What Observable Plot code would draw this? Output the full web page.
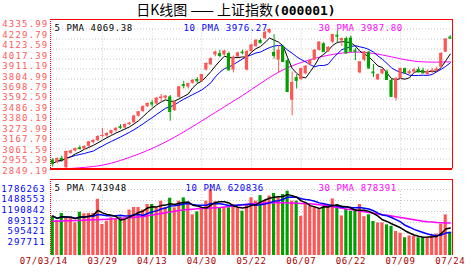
<!DOCTYPE html>
<html><head><meta charset="utf-8">
<script src="https://cdn.jsdelivr.net/npm/d3@7"></script>
<script src="https://cdn.jsdelivr.net/npm/@observablehq/plot@0.6"></script>
<style>
body{margin:0;background:#fff;}
#c{position:relative;width:472px;height:273px;overflow:hidden;background:#fff;}
#c svg{position:absolute;left:0;top:0;background:transparent;}
#title{position:absolute;left:0;top:1px;width:472px;text-align:center;font-size:14px;line-height:16px;font-family:"Noto Sans CJK SC";color:#000;white-space:nowrap;}
#title b{font-family:"DejaVu Sans Mono";font-size:13px;}
</style></head><body>
<div id="c"><div id="title">日K线图 —— 上证指数<b>(000001)</b></div></div>
<script>
// ---- data ----
const open  = [2945,2915,2962,2862,3015,3040,3075,3060,3090,3130,3150,3195,3200,3225,3255,3300,3285,3320,3340,3410,3460,3510,3552,3540,3598,3600,3615,3470,3610,3745,3720,3760,3800,3775,3900,3955,4060,4075,4060,4075,3900,4040,4090,3900,4095,4150,4215,4235,4295,4087,4005,4150,4000,3580,3820,3800,3860,3955,4005,4110,4180,4095,4195,4270,4210,4235,4240,4110,3870,4005,4090,3880,3795,3860,3880,3790,3600,3810,3915,3860,3880,3905,3895,3850,3880,3890,3930,4090,4250];
const high  = [2958,2968,2985,3040,3048,3072,3095,3095,3140,3160,3200,3280,3235,3260,3290,3320,3330,3345,3420,3460,3520,3550,3575,3610,3640,3630,3630,3570,3725,3780,3760,3800,3820,3855,3975,4030,4100,4110,4110,4090,4050,4090,4110,4110,4175,4225,4230,4310,4335.99,4275,4160,4160,4010,3880,3850,3920,3945,4010,4115,4200,4190,4150,4280,4313,4240,4250,4260,4130,3990,4100,4100,3960,3860,3910,3900,3800,3820,3920,3920,3900,3920,3930,3920,3900,3920,3930,4085,4232,4265];
const low   = [2870,2905,2920,2849.19,3005,3030,3050,3045,3080,3115,3140,3180,3185,3210,3240,3270,3280,3310,3335,3400,3450,3505,3505,3530,3560,3590,3357,3460,3600,3700,3700,3750,3760,3770,3890,3950,4040,4030,4050,3895,3870,4030,4060,3890,4090,4140,4180,4225,4285,4015,3865,3985,3660,3414,3700,3790,3850,3950,4000,4100,4090,4085,4180,4193,4150,4076,4090,4000,3860,3990,3915,3820,3790,3850,3790,3610,3570,3800,3860,3850,3860,3870,3860,3840,3860,3880,3920,4085,4225];
const close = [2908,2960,2950,3035,3040,3065,3066,3088,3135,3150,3195,3205,3225,3255,3280,3292,3320,3335,3410,3455,3510,3545,3540,3600,3612,3622,3460,3560,3720,3735,3755,3790,3785,3850,3970,4020,4090,4055,4100,3900,4030,4080,4085,4095,4165,4215,4190,4300,4330,4053,4110,3990,3672,3767,3790,3915,3940,4000,4110,4195,4095,4140,4275,4260,4235,4080,4100,4100,3985,4090,3920,3870,3850,3905,3800,3620,3810,3915,3870,3880,3900,3880,3870,3886,3895,3908,4076,4228,4240];
const volume = [1064000,947000,1137000,1020000,1000000,885000,1170000,1130000,1140000,1140000,1520000,839000,928000,1020000,980000,1040000,947000,1230000,1300000,1300000,1230000,1380000,1380000,1290000,1470000,1300000,1550000,1290000,1470000,1560000,1380000,1100000,1180000,1290000,1470000,1786263,1450000,1290000,1290000,1290000,1380000,1270000,1200000,1380000,1560000,1470000,1620000,1490000,1610000,1680000,1560000,1650000,1740000,1470000,1470000,1060000,1420000,1330000,1300000,1240000,1310000,1380000,1530000,1380000,1070000,1250000,1200000,1240000,1380000,1050000,1100000,920000,880000,880000,830000,790000,650000,600000,480000,530000,520000,480000,470000,490000,560000,580000,850000,1100000,630000];
const ma30 = [2851,2851,2852,2853,2855,2858,2862,2866,2871,2876,2882,2890,2900,2912,2925,2940,2956,2973,2990,3008,3027,3047,3068,3090,3113,3137,3162,3188,3215,3243,3272,3300,3330,3360,3390,3420,3450,3480,3510,3540,3570,3600,3630,3662,3694,3726,3758,3790,3822,3850,3878,3902,3925,3945,3963,3980,3995,4010,4024,4036,4047,4057,4066,4074,4080,4085,4089,4091,4090,4087,4082,4076,4069,4060,4050,4040,4030,4020,4010,4002,3995,3990,3987,3985,3984,3984,3985,3986,3987.8];
const vma30 = [930000,932000,935000,938000,942000,946000,950000,955000,960000,965000,970000,976000,983000,990000,998000,1006000,1015000,1025000,1035000,1045000,1056000,1075000,1095000,1115000,1135000,1155000,1175000,1195000,1215000,1235000,1245000,1255000,1262000,1270000,1277000,1285000,1292000,1300000,1312000,1325000,1340000,1355000,1370000,1385000,1398000,1405000,1412000,1418000,1422000,1425000,1426000,1426000,1424000,1420000,1415000,1410000,1405000,1400000,1390000,1375000,1358000,1340000,1320000,1300000,1280000,1260000,1245000,1225000,1205000,1185000,1165000,1145000,1125000,1105000,1090000,1070000,1050000,1030000,1010000,990000,970000,950000,930000,915000,905000,895000,888000,882000,878391];
const priceTicks = [4335.99,4229.79,4123.59,4017.39,3911.19,3804.99,3698.79,3592.59,3486.39,3380.19,3273.99,3167.79,3061.59,2955.39,2849.19];
const volTicks = [1786263,1488553,1190842,893132,595421,297711];
const xTickIdx = [0,11,22,33,44,55,66,77,88];
const xTickLabels = ["07/03/14","03/29","04/13","04/30","05/22","06/07","06/22","07/09","07/24"];
const priceLegend = ["5 PMA 4069.38","10 PMA 3976.27","30 PMA 3987.80"];
const volLegend = ["5 PMA 743948","10 PMA 620836","30 PMA 878391"];

// ---- build ----
const UP = "#ff5555", DOWN = "#009f00", GRID = "#c8c8c8", FRAME = "#ff0000";
const data = close.map((c, i) => ({i, o: open[i], h: high[i], l: low[i], c, v: volume[i], m30: ma30[i], vm30: vma30[i], up: c >= open[i]}));
const W = 472, H = 273;
const xDom = [-0.5, data.length - 0.5];
const col = d => d.up ? UP : DOWN;
const pMin = priceTicks[priceTicks.length - 1], pMax = priceTicks[0];
const pTop = pMax + (pMax - pMin) * 9.5 / 140;
const vTop = volTicks[0] * 76 / 66;
const mono = "DejaVu Sans Mono";
const c = document.getElementById("c");
const spacing = (svg, px) => { d3.select(svg).selectAll("text").style("letter-spacing", px + "px"); return svg; };

const price = Plot.plot({
  width: W, height: H, marginLeft: 50, marginRight: 20, marginTop: 19, marginBottom: H - 168.5,
  style: {background: "transparent"},
  x: {domain: xDom, axis: null},
  y: {domain: [pMin, pTop], axis: null},
  marks: [
    Plot.ruleY(priceTicks.slice(0, -1), {stroke: GRID, strokeDasharray: "1,2"}),
    Plot.ruleX(xTickIdx.slice(1, -1), {y1: pMin, y2: pMax, stroke: GRID, strokeDasharray: "1,2"}),
    Plot.line(data, {x: "i", y: "m30", stroke: "#ff00ff", strokeWidth: 1}),
    Plot.lineY(data, Plot.windowY({k: 10, anchor: "end", reduce: "mean"}, {x: "i", y: "c", stroke: "#0000ff", strokeWidth: 1})),
    Plot.lineY(data, Plot.windowY({k: 5, anchor: "end", reduce: "mean"}, {x: "i", y: "c", stroke: "#000", strokeWidth: 1})),
    Plot.ruleX(data, {x: "i", y1: "l", y2: "h", stroke: col}),
    Plot.rect(data, {x1: d => d.i - 0.35, x2: d => d.i + 0.35, y1: "o", y2: "c", fill: col}),
    Plot.ruleY(data, {x1: d => d.i - 0.35, x2: d => d.i + 0.35, y: "c", stroke: col}),
    Plot.ruleY([pTop], {stroke: FRAME}),
    Plot.ruleY([pMin], {stroke: FRAME, strokeWidth: 2}),
    Plot.ruleX([xDom[1]], {stroke: FRAME}),
    Plot.ruleX([xDom[0]], {stroke: FRAME, strokeDasharray: "1,1"}),
    Plot.text([priceLegend[0]], {frameAnchor: "top-left", dx: 4, dy: 5, fill: "#000", fontFamily: mono, fontSize: 9, textAnchor: "start"}),
    Plot.text([priceLegend[1]], {frameAnchor: "top-left", dx: 133, dy: 5, fill: "#0000ff", fontFamily: mono, fontSize: 9, textAnchor: "start"}),
    Plot.text([priceLegend[2]], {frameAnchor: "top-left", dx: 268, dy: 5, fill: "#ff00ff", fontFamily: mono, fontSize: 9, textAnchor: "start"})
  ]
});
c.appendChild(spacing(price, 0.6));

const priceLabels = Plot.plot({
  width: W, height: H, marginLeft: 0, marginRight: W - 48, marginTop: 23.7, marginBottom: H - 170.5,
  style: {background: "transparent"},
  x: {axis: null}, y: {domain: [pMin, pMax], axis: null},
  marks: [Plot.text(priceTicks, {y: d => d, text: d => d.toFixed(2), frameAnchor: "right", textAnchor: "end", fill: "#ff5a5a", fontFamily: mono, fontSize: 9})]
});
c.appendChild(spacing(priceLabels, 1.2));

const vol = Plot.plot({
  width: W, height: H, marginLeft: 50, marginRight: 20, marginTop: 179, marginBottom: H - 255,
  style: {background: "transparent"},
  x: {domain: xDom, axis: null},
  y: {domain: [0, vTop], axis: null},
  marks: [
    Plot.ruleY(volTicks, {stroke: GRID, strokeDasharray: "1,2"}),
    Plot.ruleX(xTickIdx.slice(1, -1), {y1: 0, y2: volTicks[0], stroke: GRID, strokeDasharray: "1,2"}),
    Plot.rectY(data, {x1: d => d.i - 0.35, x2: d => d.i + 0.35, y: "v", fill: col}),
    Plot.line(data, {x: "i", y: "vm30", stroke: "#ff00ff"}),
    Plot.lineY(data, Plot.windowY({k: 10, anchor: "end", reduce: "mean"}, {x: "i", y: "v", stroke: "#0000ff"})),
    Plot.lineY(data, Plot.windowY({k: 5, anchor: "end", reduce: "mean"}, {x: "i", y: "v", stroke: "#000"})),
    Plot.ruleY([vTop], {stroke: FRAME}),
    Plot.ruleX([xDom[1]], {stroke: FRAME}),
    Plot.ruleX([xDom[0]], {stroke: FRAME, strokeDasharray: "1,1"}),
    Plot.text([volLegend[0]], {frameAnchor: "top-left", dx: 4, dy: 5, fill: "#000", fontFamily: mono, fontSize: 9, textAnchor: "start"}),
    Plot.text([volLegend[1]], {frameAnchor: "top-left", dx: 135, dy: 5, fill: "#0000ff", fontFamily: mono, fontSize: 9, textAnchor: "start"}),
    Plot.text([volLegend[2]], {frameAnchor: "top-left", dx: 268, dy: 5, fill: "#ff00ff", fontFamily: mono, fontSize: 9, textAnchor: "start"}),
    Plot.text(xTickIdx.slice(1), {x: d => d, text: (d, k) => xTickLabels[k + 1], frameAnchor: "bottom", dy: 8, fill: "#aa0000", fontFamily: mono, fontSize: 9}),
    Plot.text(xTickIdx.slice(0, 1), {x: d => d, text: (d, k) => xTickLabels[k], frameAnchor: "bottom", dy: 8, dx: -9, fill: "#aa0000", fontFamily: mono, fontSize: 9})
  ]
});
c.appendChild(spacing(vol, 0.6));

const volLabels = Plot.plot({
  width: W, height: H, marginLeft: 0, marginRight: W - 45, marginTop: 188.3, marginBottom: H - 252.4,
  style: {background: "transparent"},
  x: {axis: null}, y: {domain: [0, volTicks[0]], axis: null},
  marks: [Plot.text(volTicks, {y: d => d, text: d => String(d), frameAnchor: "right", textAnchor: "end", fill: "#0000ff", fontFamily: mono, fontSize: 9})]
});
c.appendChild(spacing(volLabels, 0.9));
</script>
</body></html>
